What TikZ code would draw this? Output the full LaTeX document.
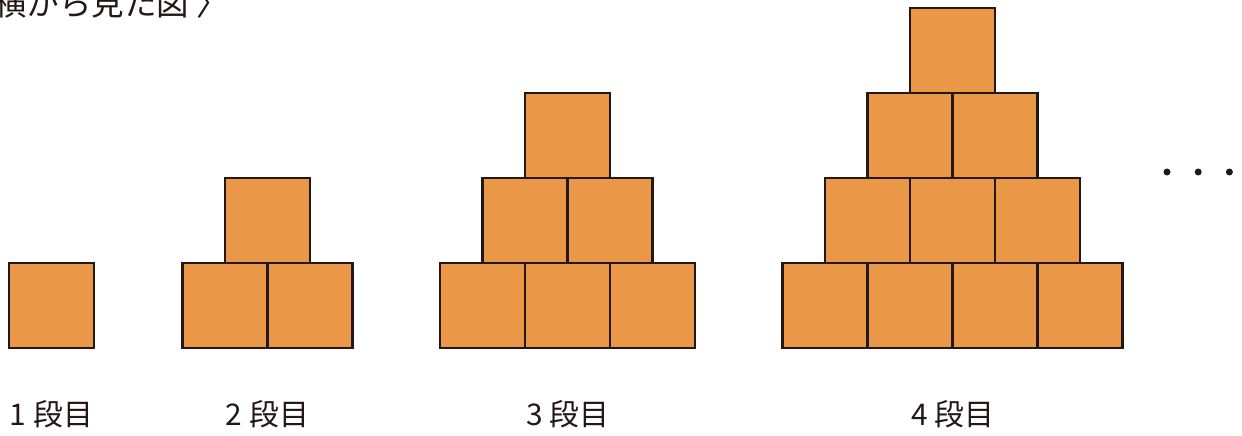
\documentclass[tikz,border=0pt]{standalone}
\usepackage{fontspec}
\setmainfont{Noto Sans CJK JP}
\usetikzlibrary{positioning}

\definecolor{blockorange}{RGB}{235,151,72}
\definecolor{inkdark}{RGB}{35,24,21}

\begin{document}
\begin{tikzpicture}[x=0.02cm, y=-0.02cm,
  blk/.style={draw=inkdark, fill=blockorange, line width=1.4pt,
    minimum size=1.7cm, inner sep=0pt, outer sep=0pt},
  lbl/.style={text=inkdark, font=\fontsize{17}{20}\selectfont},
  dot/.style={circle, fill=inkdark, minimum size=0.14cm, inner sep=0pt}]
\useasboundingbox (0,0) rectangle (1242,436);
% title, cut at the left edge
\node[lbl, anchor=base west, inner sep=0pt, font=\fontsize{18.5}{22}\selectfont] (title) at (-6,15) {横から見た図 〉};
% stacks of blocks
\foreach \n/\cx in {1/51.5, 2/267.5, 3/567.5, 4/952.5} {
  \foreach \r in {1,...,\n} {
    \pgfmathtruncatemacro\k{\n-\r+1}
    \foreach \i in {1,...,\k} {
      \node[blk] (b\n-\r-\i) at ({\cx+(\i-(\k+1)/2)*85}, {305.5-(\r-1)*85}) {};
    }
  }
  \node[lbl] (lab\n) at (\cx,414) {\n\ 段目};
}
% and so on
\node[dot] (dot1) at (1167,172) {};
\node[dot] (dot2) [right=0.47cm of dot1] {};
\node[dot] (dot3) [right=0.47cm of dot2] {};
\end{tikzpicture}
\end{document}
